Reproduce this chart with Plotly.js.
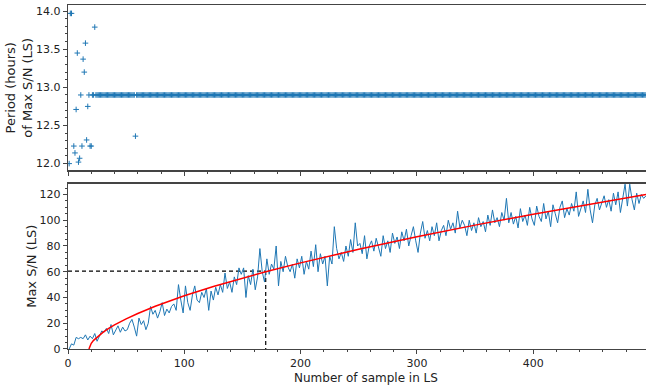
<!DOCTYPE html>
<html><head><meta charset="utf-8">
<script src="https://cdn.plot.ly/plotly-3.0.1.min.js"></script>
<style>html,body{margin:0;padding:0;background:#fff}#c{width:646px;height:387px}</style>
</head><body><div id="c"></div>
<script>
// Top panel: period of max S/N for early samples (scattered), then plateau
const earlyX = [1,2,3,5,6,7,8,9,10,11,12,13,14,15,16,17,18,19,20,23,58];
const earlyPeriod = [12.0,13.97,13.97,12.23,12.14,12.71,13.45,12.02,12.07,12.9,12.23,13.37,13.20,13.58,12.31,12.75,12.9,12.23,12.23,13.79,12.36];
const plateauPeriod = 12.9;
const plateauFrom = 21, plateauTo = 497;

// Bottom panel: max S/N (every second sample)
const snX = [];
for (let i = 1; i <= 497; i += 2) snX.push(i);
const snValues = [
 0,4,3,9,8, 9,8,11,7,10, 8,12,6,10,14, 13,16,12,19,11, 15,18,13,17,14,
 15,20,23,17,10, 24,19,22,15,20, 33,27,30,24,29, 36,26,31,28,33, 35,30,50,38,28,
 49,36,30,42,49, 38,36,44,40,47, 30,45,38,48,42, 50,44,59,47,52, 44,56,50,63,58,
 63,40,57,50,62, 46,56,78,60,52, 70,58,66,62,80, 49,68,60,72,64, 60,66,55,70,63,
 72,58,68,62,76, 64,81,60,74,66, 72,49,72,66,95, 78,70,75,68,80, 72,85,75,98,80,
 82,74,88,70,80, 84,76,86,79,72, 88,78,84,75,90, 82,87,78,91,84, 93,80,88,95,84,
 75,90,99,86,92, 84,95,88,98,84, 92,96,88,100,93, 98,90,107,94,100, 96,88,100,92,98,
 90,102,95,99,91, 104,96,108,98,102, 95,106,100,117,98, 106,97,103,94,109, 99,104,96,110,101,
 96,111,103,99,113, 101,107,95,112,105, 98,110,115,102,109, 104,113,107,122,103, 110,115,106,124,108,
 98,112,117,108,114, 119,110,116,107,121, 112,122,106,118,128, 111,128,116,108,121, 113,120,117,119
];

// Red fitted curve
const fitX = [18,19,20,22,25,30,35,40,50,60,75,100,125,150,170,200,250,300,350,400,450,497];
const fitY = [0,2.9,4.4,6.7,9.3,12.9,16.0,18.7,23.4,27.6,33.2,41.3,48.5,55.1,60.0,66.9,77.4,87.1,96.2,104.7,112.7,120.0];

// Dashed guide lines
const guideX = 170, guideY = 60.5;

const topX = earlyX.slice(), topY = earlyPeriod.slice();
for (let i = plateauFrom; i <= plateauTo; i++) { if (i !== 23 && i !== 58) { topX.push(i); topY.push(plateauPeriod); } }

const blue = '#1f77b4';
const traces = [
 {x: topX, y: topY, type: 'scatter', mode: 'markers', xaxis: 'x', yaxis: 'y',
  marker: {symbol: 'cross-thin', size: 4, color: blue, line: {color: blue, width: 1}}},
 {x: [0, guideX], y: [guideY, guideY], type: 'scatter', mode: 'lines', xaxis: 'x2', yaxis: 'y2',
  line: {color: 'black', width: 1.2, dash: '4px,3px'}},
 {x: [guideX, guideX], y: [guideY, 0], type: 'scatter', mode: 'lines', xaxis: 'x2', yaxis: 'y2',
  line: {color: 'black', width: 1.2, dash: '4px,3px'}},
 {x: snX, y: snValues, type: 'scatter', mode: 'lines', xaxis: 'x2', yaxis: 'y2',
  line: {color: blue, width: 1}},
 {x: fitX, y: fitY, type: 'scatter', mode: 'lines', xaxis: 'x2', yaxis: 'y2',
  line: {color: 'red', width: 1.5}}
];

const titleFont = {family: 'DejaVu Sans, sans-serif', size: 13, color: '#222'};
const font = {family: 'DejaVu Sans, sans-serif', size: 12, color: '#222'};
const axCommon = {showline: true, mirror: true, linecolor: '#444', linewidth: 1.2,
  ticks: 'outside', ticklen: 4, tickcolor: '#444', showgrid: false, zeroline: false,
  tickfont: {family: 'DejaVu Sans, sans-serif', size: 11, color: '#222'}};

const layout = {
 width: 646, height: 387, showlegend: false,
 paper_bgcolor: 'white', plot_bgcolor: 'white', font: font,
 margin: {l: 68, r: 0, t: 5, b: 38},
 xaxis: Object.assign({}, axCommon, {domain: [0, 1], range: [0, 497], dtick: 100, showticklabels: false,
   anchor: 'y', minor: {ticks: 'outside', ticklen: 2, dtick: 20, tickcolor: '#444'}}),
 yaxis: Object.assign({}, axCommon, {domain: [0.519, 1], range: [11.91, 14.08], dtick: 0.5, tickformat: '.1f',
   anchor: 'x', minor: {ticks: 'outside', ticklen: 2, dtick: 0.1, tickcolor: '#444'},
   title: {text: 'Period (hours)<br>of Max S/N (LS)', font: titleFont, standoff: 0}}),
 xaxis2: Object.assign({}, axCommon, {domain: [0, 1], range: [0, 497], dtick: 100, anchor: 'y2',
   minor: {ticks: 'outside', ticklen: 2, dtick: 20, tickcolor: '#444'}}),
 yaxis2: Object.assign({}, axCommon, {domain: [0, 0.481], range: [0, 128.5], dtick: 20, anchor: 'x2',
   minor: {ticks: 'outside', ticklen: 2, dtick: 5, tickcolor: '#444'},
   title: {text: 'Max S/N (LS)', font: titleFont, standoff: 0}}),
 annotations: [{text: 'Number of sample in LS', xref: 'paper', yref: 'paper', x: 0.516, y: 0,
   xanchor: 'center', yanchor: 'top', yshift: -21, borderpad: 0, showarrow: false,
   font: {family: 'DejaVu Sans, sans-serif', size: 12, color: '#222'}}]
};

Plotly.newPlot('c', traces, layout, {staticPlot: true, displayModeBar: false});
</script></body></html>
